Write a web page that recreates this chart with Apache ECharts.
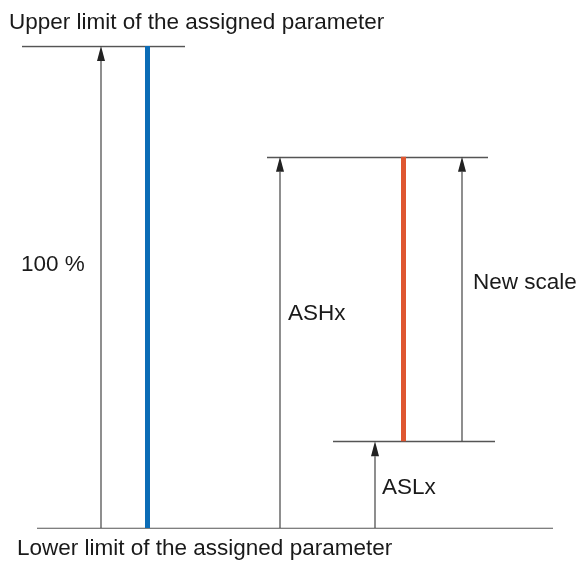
<!DOCTYPE html>
<html>
<head>
<meta charset="utf-8">
<script src="https://cdn.jsdelivr.net/npm/echarts@6/dist/echarts.min.js"></script>
<style>
	html, body { margin: 0; padding: 0; background: #fff; }
	#main { width: 579px; height: 561px; }
</style>
</head>
<body>
<div id="main"></div>
<script>
// levels in % of the assigned parameter range
var levelLower = 0
var levelUpper = 100
var levelASH = 77
var levelASL = 18

// horizontal reference lines: [xStart, xEnd, level]
var refLines = [
	[22, 185, levelUpper],
	[37, 553, levelLower],
	[267, 488, levelASH],
	[333, 495, levelASL]
]

// arrows: [x, from level, to level]
var arrows = [
	[101, levelLower, levelUpper],
	[280, levelLower, levelASH],
	[375, levelLower, levelASL],
	[462, levelASL, levelASH]
]

// coloured scale bars: [x, from, to, colour]
var scaleBars = [
	[147, levelLower, levelUpper, '#0b6cb6'],
	[403, levelASL, levelASH, '#df5630']
]

// texts: [text, x, y]
var labels = [
	['Upper limit of the assigned parameter', 9, 22],
	['Lower limit of the assigned parameter', 17, 548],
	['100 %', 21, 264],
	['ASHx', 288, 313],
	['New scale', 473, 282],
	['ASLx', 382, 487]
]

function $each(arr, fn) {
	for (var i = 0; i < arr.length; i++) {
		fn(arr[i], i)
	}
}

var myChart = echarts.init(document.getElementById('main'));

var lineData = []
$each(refLines, function(d) {
	lineData.push({ coords : [ [d[0], d[2]], [d[1], d[2]] ] })
})

var barSeries = []
$each(scaleBars, function(d) {
	barSeries.push({
		type : 'lines',
		coordinateSystem : 'cartesian2d',
		silent : true,
		lineStyle : { color : d[3], width : 5, opacity : 1 },
		data : [ { coords : [ [d[0], d[1]], [d[0], d[2]] ] } ],
		z : 3
	})
})

var graphics = []
$each(labels, function(d) {
	graphics.push({
		type : 'text',
		left : d[1],
		top : d[2] - 11,
		style : {
			text : d[0],
			font : '22.5px "Liberation Sans", Arial, sans-serif',
			fill : '#1a1a1a'
		}
	})
})

var option = {
	animation : false,
	backgroundColor : '#fff',
	grid : { left : 0, right : 0, top : 46, bottom : 33 },
	xAxis : { type : 'value', min : 0, max : 579, show : false },
	yAxis : { type : 'value', min : 0, max : 100, show : false },
	graphic : graphics,
	series : [ {
		type : 'lines',
		coordinateSystem : 'cartesian2d',
		silent : true,
		lineStyle : { color : '#555', width : 1.3, opacity : 1 },
		data : lineData,
		z : 2
	}, {
		type : 'custom',
		silent : true,
		data : arrows,
		encode : { x : 0, y : [1, 2] },
		renderItem : function(params, api) {
			var p0 = api.coord([api.value(0), api.value(1)])
			var p1 = api.coord([api.value(0), api.value(2)])
			var headLen = 15, headW = 4
			return {
				type : 'group',
				children : [ {
					type : 'line',
					shape : { x1 : p0[0], y1 : p0[1], x2 : p1[0], y2 : p1[1] + headLen },
					style : { stroke : '#444', lineWidth : 1.2 }
				}, {
					type : 'polygon',
					shape : { points : [ [p1[0], p1[1]], [p1[0] - headW, p1[1] + headLen], [p1[0] + headW, p1[1] + headLen] ] },
					style : { fill : '#222' }
				} ]
			}
		},
		z : 4
	} ].concat(barSeries)
}
myChart.setOption(option);
</script>
</body>
</html>
